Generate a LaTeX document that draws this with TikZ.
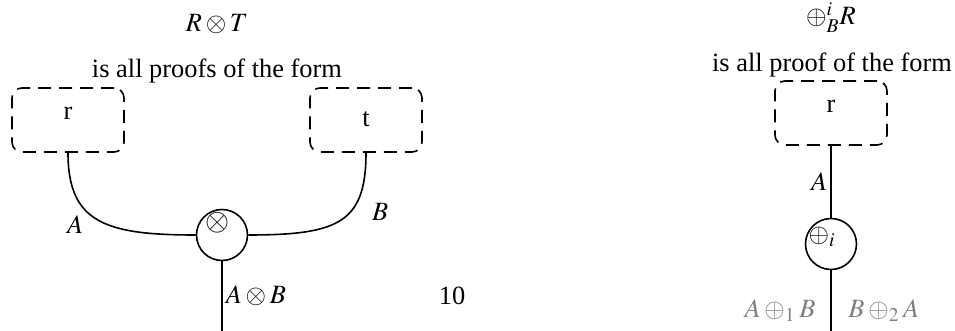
\documentclass[tikz,border=0pt]{standalone}
\usepackage{mathptmx}
\usepackage[no-math]{fontspec}
\setmainfont{Liberation Serif}
\usetikzlibrary{positioning}

\begin{document}
\begin{tikzpicture}[
  x=0.5pt, y=-0.5pt,
  line width=0.8pt,
  every node/.style={font=\fontsize{13.2pt}{16pt}\selectfont},
  proofbox/.style={rectangle, rounded corners=5pt, draw, dash pattern=on 6.5pt off 4pt, minimum width=56pt, minimum height=32pt, text height=9pt, text depth=9pt},
  rule/.style={circle, draw, minimum size=25.5pt, inner sep=0pt},
  caption/.style={anchor=base},
  wireLabel/.style={inner sep=1.5pt},
  alt/.style={text=gray}
]
  \useasboundingbox (0,0) rectangle (955,331);

  % tensor
  \node[caption] (ttl) at (217,32) {$R\otimes T$};
  \node[caption] (txt) at (217,78) {is all proofs of the form};
  \node[proofbox] (r) at (68,120) {r};
  \node[proofbox, text height=12.5pt, text depth=5.5pt] (t) at (366,120) {t};
  \node[rule, label={[shift={(-2.25pt,6pt)}, font=\fontsize{15.5pt}{18pt}\selectfont]center:$\otimes$}] (tens) at (222,235) {};
  \coordinate (tensout) at (222,331);
  \draw (r.south) .. controls +(0,70) and +(-90,0) .. node[pos=0.4, below left, wireLabel] {$A$} (tens.west);
  \draw (t.south) .. controls +(0,70) and +(90,0) .. node[pos=0.25, below right, wireLabel, xshift=4pt, yshift=-2pt] {$B$} (tens.east);
  \draw (tens.south) -- node[right, wireLabel] {$A\otimes B$} (tensout);
  \node[caption] (num) at (452,305) {10};

  % plus
  \node[caption] (ttl2) at (831,25) {$\oplus^i_B R$};
  \node[caption] (txt2) at (832,72) {is all proof of the form};
  \node[proofbox] (r2) at (831,113) {r};
  \node[rule, label={[shift={(-4.5pt,3.5pt)}]center:$\oplus_i$}] (plus) at (831,244) {};
  \coordinate (plusout) at (831,331);
  \draw (r2.south) -- node[left, wireLabel] {$A$} (plus.north);
  \draw (plus.south) -- node[pos=0.67, left=4pt, alt] {$A\oplus_1 B$} node[pos=0.67, right=5pt, alt] {$B\oplus_2 A$} (plusout);
\end{tikzpicture}
\end{document}
